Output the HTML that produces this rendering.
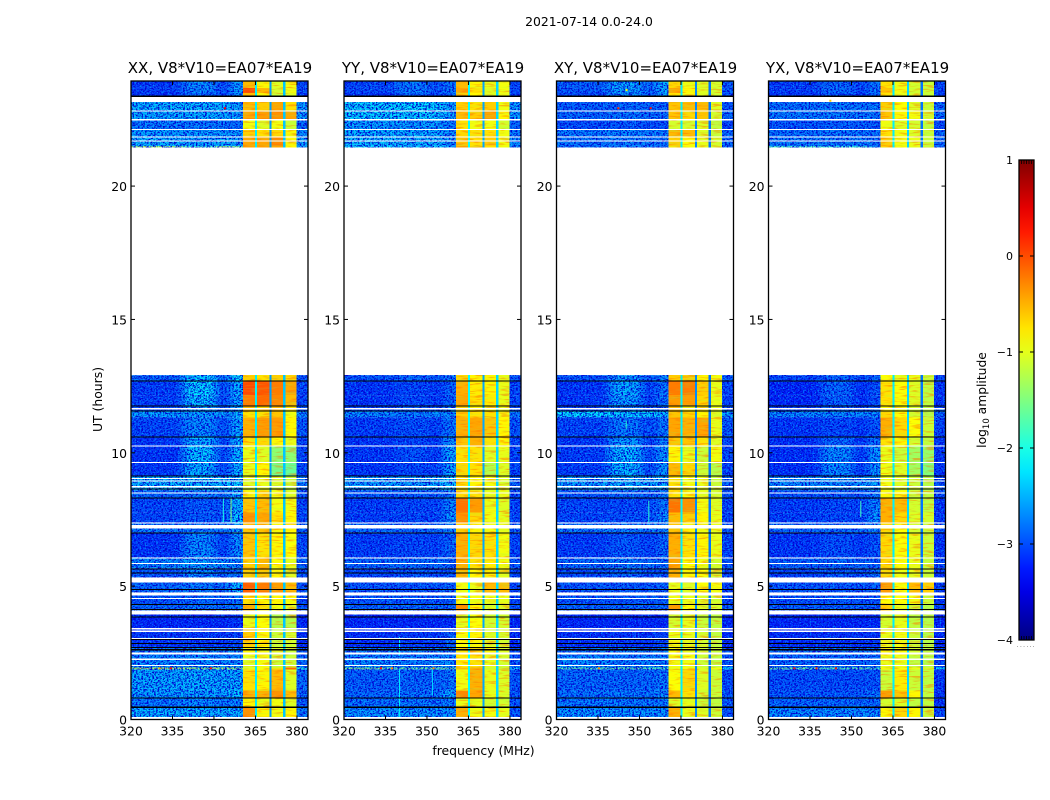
<!DOCTYPE html>
<html>
<head>
<meta charset="utf-8">
<title>2021-07-14 0.0-24.0</title>
<style>
html,body{margin:0;padding:0;background:#fff;width:1050px;height:800px;overflow:hidden}
svg{display:block}
text{font-family:"DejaVu Sans","Liberation Sans",sans-serif;fill:#000}
</style>
</head>
<body>
<svg id="figure" xmlns="http://www.w3.org/2000/svg" width="1050" height="800" viewBox="0 0 1050 800">
  <defs>
    <filter id="soft-band" x="-20%" y="0" width="140%" height="100%" color-interpolation-filters="sRGB">
      <feGaussianBlur stdDeviation="5 0"/>
    </filter>
    <filter id="speckle-dark" x="0" y="0" width="100%" height="100%" color-interpolation-filters="sRGB">
      <feTurbulence type="fractalNoise" baseFrequency="0.55 0.68" numOctaves="2" seed="4"/>
      <feColorMatrix type="matrix" values="0 0 0 0 0  0 0 0 0 0  0 0 0 0 0.82  6 0 0 0 -2.7"/>
      <feComposite in2="SourceGraphic" operator="in"/>
    </filter>
    <filter id="speckle-light" x="0" y="0" width="100%" height="100%" color-interpolation-filters="sRGB">
      <feTurbulence type="fractalNoise" baseFrequency="0.6 0.75" numOctaves="2" seed="11"/>
      <feColorMatrix type="matrix" values="0 0 0 0 0  0 0 0 0 0.7  0 0 0 0 1  0 5 0 0 -2.6"/>
      <feComposite in2="SourceGraphic" operator="in"/>
    </filter>
    <filter id="streak-warm" x="0" y="0" width="100%" height="100%" color-interpolation-filters="sRGB">
      <feTurbulence type="fractalNoise" baseFrequency="0.08 0.55" numOctaves="2" seed="7"/>
      <feColorMatrix type="matrix" values="0 0 0 0 1  0 0 0 0 0.45  0 0 0 0 0  5 0 0 0 -2.6"/>
      <feComposite in2="SourceGraphic" operator="in"/>
    </filter>
    <filter id="streak-cool" x="0" y="0" width="100%" height="100%" color-interpolation-filters="sRGB">
      <feTurbulence type="fractalNoise" baseFrequency="0.06 0.6" numOctaves="2" seed="19"/>
      <feColorMatrix type="matrix" values="0 0 0 0 0.55  0 0 0 0 1  0 0 0 0 0.35  0 5 0 0 -2.7"/>
      <feComposite in2="SourceGraphic" operator="in"/>
    </filter>
    <linearGradient id="jet-gradient" x1="0" y1="1" x2="0" y2="0"></linearGradient>
  </defs>
  <text x="589" y="26" font-size="12.4" text-anchor="middle">2021-07-14 0.0-24.0</text>
  <text transform="translate(102,399.5) rotate(-90)" font-size="12.4" text-anchor="middle">UT (hours)</text>
  <text x="483.5" y="755" font-size="12.4" text-anchor="middle">frequency (MHz)</text>
  <text transform="translate(986,400) rotate(-90)" font-size="12.3" text-anchor="middle">log<tspan font-size="8.5" dy="3">10</tspan><tspan dy="-3"> amplitude</tspan></text>
  <g id="panels"></g>
  <g id="colorbar"></g>
</svg>
<script>
/* Time axis: row boundaries in hours, top to bottom */
var timeEdges = [23.94,23.68,23.49,23.34,23.15,22.81,22.48,22.14,21.84,21.50,21.45,12.91,12.68,12.16,11.74,11.56,11.33,10.58,10.24,9.64,9.12,8.59,8.29,7.77,7.39,7.02,6.08,5.67,5.33,5.14,4.77,4.32,4.09,3.94,3.38,2.70,2.40,1.95,1.88,1.09,0.79,0.45,0.09,0];

/* Frequency groups in MHz */
var lowBand = [300,339];
var humpBand = [339,351];
var shoulderBand = [351,356];
var nearBand = [356,362];
var tailBand = [362,400];
var blockBands = [[360.5,364.8],[365.6,370],[370.8,375],[375.8,379.8]];
var notchBands = [[364.8,365.6],[370,370.8],[375,375.8]];

/* log10 amplitude per time row: low, hump, near, block1, block2, block3, block4, tail */
var xxRows = [
[-2.85,-2.4,-2.3,-.4,-.7,-.9,-.8,-2.8],
[-2.85,-2.45,-2.2,.15,-.4,-.95,-.8,-2.8],
[-2.9,-2.6,-2.4,-.4,-.7,-1,-.9,-2.9],
null,
[-2.2,-2.15,-2.25,-.4,-.5,-.3,-.6,-2.3],
[-2.25,-2.2,-2.3,-.3,-.25,-.2,-.3,-2.3],
[-2.5,-2.5,-2.6,-.8,-.9,-.8,-1,-2.6],
[-2.3,-2.3,-2.3,-.5,-.6,-.55,-.7,-2.4],
[-2.2,-2.3,-2.3,-.3,-.3,-.15,-.7,-2.3],
[-1.1,-1.7,-1.3,-.3,-.3,-.3,-.7,-2.3],
null,
[-2.6,-2.1,-1.9,-.5,-.6,-.5,-.6,-2.7],
[-2.85,-2,-2.1,.15,.1,-.1,-.3,-2.8],
[-2.85,-2.1,-2.2,-.1,0,-.15,-.4,-2.8],
[-2.8,-2.3,-2.3,-.4,-.5,-.4,-.6,-2.8],
[-2.3,-2.3,-2.2,-.6,-.6,-.45,-.8,-2.4],
[-2.8,-2.4,-2.2,-.35,-.25,-.25,-.7,-2.7],
[-2.9,-2.2,-2.1,-.6,-.55,-.7,-.85,-2.8],
[-2.9,-2.1,-2.1,-.85,-.9,-1.3,-1.3,-2.8],
[-2.9,-2.2,-2.1,-.85,-.7,-1.4,-1.5,-2.8],
[-2.2,-2.1,-2,-.9,-.85,-.9,-1,-2.5],
[-2.6,-2.5,-2.2,-.7,-.5,-.8,-.9,-2.7],
[-2.8,-2.7,-2.1,-.45,-.4,-.8,-.8,-2.8],
[-2.8,-2.7,-2,-.2,-.3,-.6,-.7,-2.8],
[-2.5,-2.5,-2.2,-.45,-.45,-.7,-.7,-2.6],
[-2.9,-2.4,-2.3,-.45,-.6,-.7,-.75,-2.8],
[-2.4,-2.3,-2.4,-.5,-.4,-.75,-.85,-2.6],
[-2.7,-2.4,-2.5,-.5,-.45,-.7,-.9,-2.7],
null,
[-2.6,-2.5,-2.1,.05,-.1,-.25,-.4,-2.7],
[-2.7,-2.6,-2.5,-.6,-.7,-.7,-.75,-2.8],
[-2.6,-2.5,-2.5,-.35,-.6,-.8,-.9,-2.7],
null,
[-3,-3,-2.9,-.85,-.75,-1.1,-1.1,-3],
[-2.9,-2.9,-2.8,-.5,-.7,-1,-.95,-3],
[-2.5,-2.4,-2.4,-.7,-.8,-.9,-1,-2.7],
[-2.4,-2.4,-2.4,-.9,-.8,-1,-1,-2.6],
[-1,-1.1,-1.1,-.9,-.8,-.6,0,-1.8],
[-2.25,-2.2,-2.2,-.6,-.7,-.4,-.9,-2.6],
[-2.3,-2.3,-2.1,-.35,-.35,-.2,-.4,-2.6],
[-2.5,-2.4,-2.4,-.7,-.85,-.8,-.9,-2.7],
[-2.2,-2.2,-2.2,-.2,-.7,-.8,-.7,-2.5],
null
];
var yyRows = [
[-2.8,-2.5,-2.5,-.4,-.7,-.85,-.8,-2.8],
[-2.8,-2.5,-2.5,-.3,-.6,-.9,-.8,-2.8],
[-2.9,-2.6,-2.6,-.5,-.7,-.9,-.85,-2.8],
null,
[-2.05,-2,-2.3,-.5,-.6,-.5,-.8,-2.3],
[-2.05,-2.05,-2.3,-.4,-.5,-.3,-.7,-2.3],
[-2.3,-2.3,-2.5,-.6,-.8,-.8,-.95,-2.6],
[-2.2,-2.2,-2.4,-.55,-.6,-.6,-.8,-2.5],
[-2.15,-2.2,-2.4,-.45,-.6,-.5,-.8,-2.4],
[-2,-2.1,-2.4,-.3,-.5,-.6,-.8,-2.4],
null,
[-2.7,-2.6,-2.5,-.55,-.7,-.7,-.85,-2.7],
[-2.9,-2.8,-2.6,-.35,-.65,-.7,-.85,-2.8],
[-2.9,-2.8,-2.6,-.3,-.6,-.65,-.85,-2.8],
[-2.8,-2.7,-2.5,-.5,-.7,-.7,-.85,-2.8],
[-2.4,-2.5,-2.4,-.5,-.6,-.6,-.8,-2.5],
[-2.85,-2.75,-2.5,-.35,-.3,-.45,-.7,-2.7],
[-2.9,-2.8,-2.3,-.45,-.35,-.6,-.7,-2.8],
[-2.9,-2.75,-2.2,-.6,-.6,-.9,-.85,-2.8],
[-2.9,-2.8,-2.2,-.55,-.6,-1.1,-.9,-2.8],
[-2.3,-2.3,-2.1,-.55,-.7,-.8,-.9,-2.6],
[-2.7,-2.7,-2.5,-.55,-.6,-.85,-.85,-2.8],
[-2.85,-2.8,-2.4,-.05,-.25,-.8,-.9,-2.8],
[-2.85,-2.8,-2.3,-.2,-.55,-.8,-.85,-2.8],
[-2.6,-2.6,-2.4,-.5,-.7,-.8,-.85,-2.6],
[-2.85,-2.8,-2.6,-.35,-.55,-.6,-.8,-2.8],
[-2.6,-2.6,-2.6,-.35,-.6,-.65,-.8,-2.7],
[-2.8,-2.7,-2.7,-.4,-.7,-.65,-.85,-2.8],
null,
[-2.7,-2.7,-2.6,-.8,-.85,-.4,-.4,-2.8],
[-2.7,-2.7,-2.65,-.8,-.8,-.85,-.85,-2.8],
[-2.6,-2.6,-2.6,-.2,-.7,-.9,-.9,-2.7],
null,
[-3,-3,-3,-.85,-.75,-.95,-.95,-3],
[-2.95,-2.9,-2.6,-.75,-.7,-.9,-.95,-3],
[-2.5,-2.5,-2.5,-.6,-.55,-.7,-.9,-2.8],
[-2.4,-2.5,-2.4,-.65,-.6,-.85,-.95,-2.7],
[-1.3,-1.4,-1.4,-.4,-.35,-1,-1,-2],
[-2.65,-2.6,-2.5,-.8,-.35,-.85,-.9,-2.7],
[-2.6,-2.55,-2.2,-.15,-.3,-.85,-.9,-2.7],
[-2.55,-2.5,-2.5,-.85,-.85,-.95,-.95,-2.7],
[-2.35,-2.35,-2.35,-.35,-.8,-.8,-.85,-2.7],
null
];
var xyRows = [
[-2.65,-2.25,-2.2,-.55,-.8,-.9,-.95,-2.7],
[-2.7,-2.3,-2.2,-.3,-.7,-.9,-.95,-2.7],
[-2.8,-2.4,-2.3,-.6,-.8,-.9,-.95,-2.8],
null,
[-2.65,-2.6,-2.6,-.45,-.4,-.4,-.9,-2.7],
[-2.6,-2.55,-2.6,-.45,-.55,-.45,-.95,-2.6],
[-2.75,-2.7,-2.75,-.95,-.95,-.9,-1.05,-2.8],
[-2.5,-2.45,-2.5,-.4,-.4,-.9,-1,-2.6],
[-2.55,-2.5,-2.6,-.5,-.75,-.85,-.95,-2.6],
[-2.55,-2.5,-2.6,-.6,-.8,-.85,-.95,-2.6],
null,
[-2.7,-2.3,-2.4,-.5,-.5,-.7,-.8,-2.7],
[-2.9,-2.2,-2.5,-.1,-.1,-.5,-.85,-2.8],
[-2.9,-2.3,-2.5,-.25,-.25,-.55,-.85,-2.8],
[-2.8,-2.5,-2.6,-.4,-.6,-.6,-.85,-2.8],
[-2,-2.1,-2.2,-.45,-.55,-.7,-.9,-2.3],
[-2.8,-2.5,-2.5,-.3,-.35,-.3,-.85,-2.7],
[-2.9,-2.3,-2.4,-.45,-.45,-.6,-.9,-2.8],
[-2.85,-2.15,-2.3,-.7,-.85,-1,-.8,-2.8],
[-2.85,-2.15,-2.3,-.4,-.55,-1,-1.1,-2.8],
[-2.3,-2.2,-2.2,-.6,-.8,-.85,-1,-2.6],
[-2.7,-2.6,-2.5,-.6,-.75,-.85,-.95,-2.7],
[-2.8,-2.8,-2.5,-.05,-.2,-.8,-.9,-2.8],
[-2.8,-2.75,-2.4,-.4,-.5,-.7,-.85,-2.8],
[-2.5,-2.5,-2.4,-.45,-.7,-.8,-.85,-2.7],
[-2.85,-2.7,-2.6,-.35,-.6,-.7,-.85,-2.8],
[-2.6,-2.5,-2.6,-.3,-.75,-.8,-.95,-2.7],
[-2.75,-2.6,-2.7,-.35,-.7,-.75,-.95,-2.8],
null,
[-2.7,-2.7,-2.6,-.85,-.9,-.75,-.8,-2.8],
[-2.7,-2.7,-2.65,-.8,-.85,-.9,-.95,-2.8],
[-2.6,-2.6,-2.6,-.25,-.75,-.9,-.95,-2.7],
null,
[-3,-3,-3,-.95,-.85,-1,-1.05,-3],
[-2.95,-2.9,-2.8,-.8,-.85,-.95,-1.05,-3],
[-2.55,-2.5,-2.5,-.75,-.8,-.95,-1,-2.8],
[-2.4,-2.5,-2.45,-.8,-.8,-1,-1.05,-2.7],
[-1.5,-1.4,-1.5,-.85,-.8,-.9,-.8,-2],
[-2.6,-2.6,-2.5,-.75,-.55,-.9,-1,-2.8],
[-2.55,-2.5,-2.4,-.4,-.6,-.95,-1,-2.7],
[-2.5,-2.5,-2.5,-.9,-.85,-1,-1.05,-2.7],
[-2.35,-2.35,-2.35,-.35,-.85,-.9,-1,-2.7],
null
];
var yxRows = [
[-2.85,-2.6,-2.5,-.6,-.8,-.95,-1,-2.8],
[-2.85,-2.6,-2.5,-.45,-.8,-.95,-1,-2.8],
[-2.9,-2.7,-2.6,-.6,-.85,-.95,-1,-2.9],
null,
[-2.55,-2.5,-2.5,-.5,-.75,-.9,-1,-2.6],
[-2.5,-2.5,-2.55,-.45,-.7,-.8,-.95,-2.6],
[-2.7,-2.65,-2.7,-.8,-.9,-.95,-1.05,-2.8],
[-2.55,-2.5,-2.55,-.6,-.8,-.9,-1,-2.6],
[-2.5,-2.5,-2.55,-.5,-.8,-.85,-1,-2.6],
[-1.6,-1.7,-2.4,-.5,-.8,-.85,-1,-2.6],
null,
[-2.8,-2.6,-2.6,-.75,-.85,-.85,-1,-2.8],
[-3,-2.6,-2.7,-.6,-.75,-.9,-1.05,-2.9],
[-3,-2.65,-2.7,-.6,-.75,-.9,-1.05,-2.9],
[-2.85,-2.7,-2.7,-.7,-.8,-.95,-1.05,-2.8],
[-2.4,-2.4,-2.4,-.55,-.75,-.95,-1.1,-2.6],
[-2.9,-2.8,-2.7,-.35,-.55,-.75,-1,-2.8],
[-2.95,-2.6,-2.5,-.6,-.7,-.95,-1.05,-2.9],
[-2.95,-2.4,-2.3,-.85,-1,-1.2,-1.25,-2.9],
[-2.95,-2.4,-2.3,-.8,-.9,-1.2,-1.35,-2.9],
[-2.4,-2.4,-2.2,-.8,-.9,-1,-1.1,-2.7],
[-2.75,-2.7,-2.5,-.7,-.75,-1,-1.05,-2.8],
[-2.85,-2.8,-2.4,-.35,-.4,-.95,-1.05,-2.9],
[-2.85,-2.8,-2.3,-.35,-.55,-.9,-.95,-2.9],
[-2.6,-2.6,-2.4,-.55,-.75,-.95,-1,-2.7],
[-2.9,-2.75,-2.7,-.55,-.75,-.85,-1,-2.9],
[-2.65,-2.6,-2.65,-.55,-.75,-.85,-1,-2.8],
[-2.8,-2.7,-2.5,-.55,-.8,-.85,-1,-2.9],
null,
[-2.7,-2.7,-2.6,-.25,-.75,-.4,-.5,-2.8],
[-2.75,-2.7,-2.7,-.75,-.75,-.8,-1,-2.9],
[-2.65,-2.65,-2.65,-.5,-.85,-1,-1.1,-2.8],
null,
[-3,-3,-3,-.95,-.85,-1.05,-1.1,-3],
[-2.95,-2.95,-2.9,-.85,-.8,-1,-1.1,-3],
[-2.55,-2.55,-2.5,-.7,-.75,-.95,-1.05,-2.8],
[-2.6,-2.6,-2.6,-.85,-.85,-1.05,-1.1,-2.8],
[-1.4,-1.5,-1.6,-.7,-.8,-.8,-.9,-2],
[-2.75,-2.75,-2.7,-1,-.65,-1,-1.05,-2.9],
[-2.7,-2.7,-2.5,-.25,-.45,-.7,-1.05,-2.9],
[-2.6,-2.6,-2.6,-.95,-.9,-1.05,-1.05,-2.9],
[-2.4,-2.4,-2.4,-.7,-.55,-.7,-1,-2.8],
null
];
var panelRows = [xxRows, yyRows, xyRows, yxRows];

/* Narrow notch levels between blocks per panel */
var xxNotches = [-2.2,-2.6,-2.4];
var yyNotches = [-2.1,-2.55,-2.3];
var xyNotches = [-2.2,-2.7,-2.8];
var yxNotches = [-2.2,-2.3,-2.8];
var panelNotches = [xxNotches, yyNotches, xyNotches, yxNotches];

/* Flagged time ranges (hours), shared by all polarisations */
var blankRanges = [[21.45,12.91]];
var whiteLines = [[22.83,22.79],[22.51,22.46],[22.14,22.10],[21.86,21.82],[21.71,21.67],[11.68,11.63],[10.27,10.23],[9.65,9.61],[9.05,9.01],[8.96,8.92],[8.76,8.69],[8.52,8.47],[7.39,7.35],[7.30,7.17],[6.08,6.04],[5.87,5.83],[4.77,4.65],[4.55,4.51],[3.43,3.37],[3.33,3.29],[3.06,3.02],[2.52,2.44],[2.28,2.23],[2.05,2.01]];
var blackLines = [[23.39,23.34],[12.71,12.67],[11.77,11.73],[11.59,11.55],[10.61,10.57],[9.15,9.11],[8.67,8.62],[8.32,8.28],[7.02,6.98],[5.67,5.63],[5.51,5.47],[4.89,4.85],[4.33,4.29],[4.14,4.10],[3.86,3.82],[3.02,2.98],[2.87,2.83],[2.72,2.68],[2.65,2.59],[0.82,0.78],[0.48,0.44]];

/* Narrow-band interference: panel, MHz, start hour, end hour, level */
var rfiPanel = [0,0,1,1,1,2,2,3];
var rfiFreq = [353.2,356,339.9,339.9,351.8,345,353.2,353.2];
var rfiStart = [7.4,7.4,0.1,2.4,0.9,10.9,7.4,7.6];
var rfiEnd = [8.3,8.3,1.9,3.1,1.9,11.2,8.2,8.2];
var rfiLevel = [-2,-1.5,-2.2,-2.2,-2.3,-1.9,-1.9,-1.8];

/* Bright isolated spots: panel, MHz, hour, level */
var spotPanel = [0,0,0,0,1,1,1,2,2,2,2,3,3,3,3];
var spotFreq = [334,348.5,353.6,330,333,337,352,342,353.7,335,345,329,337,344,342];
var spotHour = [1.92,1.92,22.92,1.92,1.92,1.92,1.92,22.92,22.92,1.92,23.6,1.92,1.92,1.92,23.2];
var spotLevel = [.3,.3,.4,-.4,.3,-.3,-.3,.2,.3,-.3,-.9,.3,.2,.3,-.6];

/* Axis definitions */
var freqTicks = [320,335,350,365,380];
var timeTicks = [0,5,10,15,20];
var panelTitles = ["XX, V8*V10=EA07*EA19","YY, V8*V10=EA07*EA19","XY, V8*V10=EA07*EA19","YX, V8*V10=EA07*EA19"];
var colorTicks = [-4,-3,-2,-1,0,1];
var colorTickLabels = ["\u22124","\u22123","\u22122","\u22121","0","1"];
var colorStops = [-4,-3.5,-3,-2.5,-2,-1.5,-1,-.5,0,.5,1];

/* Calibration of estimated levels against the colour scale */
var continuumShift = -0.2;
var blockShift = -0.14;

var NS = "http://www.w3.org/2000/svg";
var panelLeft = [131,344,556.5,768.5];
var panelWidth = 177;
var plotTop = 81, plotBottom = 719.5;
var freqMin = 320, freqMax = 384, timeMax = 23.94;
var colorMin = -4, colorMax = 1;

function xScale(f, p){ return panelLeft[p] + (f - freqMin) / (freqMax - freqMin) * panelWidth; }
function yScale(t){ return plotBottom - t / timeMax * (plotBottom - plotTop); }
function clip01(v){ return Math.max(0, Math.min(1, v)); }
function jet(v){
  var f = clip01((v - colorMin) / (colorMax - colorMin));
  var r = clip01(1.5 - Math.abs(4 * f - 3));
  var g = clip01(1.5 - Math.abs(4 * f - 2));
  var b = clip01(1.5 - Math.abs(4 * f - 1));
  return "rgb(" + Math.round(r * 255) + "," + Math.round(g * 255) + "," + Math.round(b * 255) + ")";
}
function mk(tag, attrs, parent){
  var el = document.createElementNS(NS, tag);
  for (var k in attrs) el.setAttribute(k, attrs[k]);
  parent.appendChild(el);
  return el;
}

var root = document.getElementById("panels");
var defs = document.querySelector("defs");

panelRows.forEach(function(rows, p){
  var L = panelLeft[p], R = L + panelWidth, W = panelWidth, H = plotBottom - plotTop;
  var panel = mk("g", {}, root);
  
  

  var cp = mk("clipPath", {id: "plot-clip-" + p}, defs);
  mk("rect", {x: L, y: plotTop, width: W, height: H}, cp);

  var plot = mk("g", {"clip-path": "url(#plot-clip-" + p + ")"}, panel);
  
  

  /* background continuum (softened across frequency) */
  var soft = mk("g", {filter: "url(#soft-band)"}, plot);
  rows.forEach(function(row, i){
    if (!row) return;
    var y0 = yScale(timeEdges[i]), y1 = yScale(timeEdges[i + 1]);
    var groups = [[lowBand, row[0]], [humpBand, row[1]], [shoulderBand, row[0]], [nearBand, row[2]], [tailBand, row[7]]];
    groups.forEach(function(g){
      var cell = mk("rect", {x: xScale(g[0][0], p), y: y0, width: xScale(g[0][1], p) - xScale(g[0][0], p), height: y1 - y0, fill: jet(g[1] + continuumShift)}, soft);
      
      
    });
  });

  /* sensor-noise texture */
  var darkNoise = mk("rect", {x: L, y: plotTop, width: W, height: H, fill: "#000", filter: "url(#speckle-dark)"}, plot);
  
  
  var lightNoise = mk("rect", {x: L, y: plotTop, width: W, height: H, fill: "#000", filter: "url(#speckle-light)", opacity: 0.65}, plot);
  
  

  /* narrow-band interference */
  rfiFreq.forEach(function(f, k){
    if (rfiPanel[k] !== p) return;
    var line = mk("rect", {x: xScale(f, p), y: yScale(rfiEnd[k]), width: 1, height: yScale(rfiStart[k]) - yScale(rfiEnd[k]), fill: jet(rfiLevel[k])}, plot);
    
    
  });

  /* signal blocks */
  rows.forEach(function(row, i){
    if (!row) return;
    var y0 = yScale(timeEdges[i]), y1 = yScale(timeEdges[i + 1]);
    blockBands.forEach(function(b, j){
      var cell = mk("rect", {x: xScale(b[0], p), y: y0, width: xScale(b[1], p) - xScale(b[0], p), height: y1 - y0, fill: jet(row[3 + j] + blockShift), "shape-rendering": "crispEdges"}, plot);
      
      
    });
  });

  /* streak texture across the blocks */
  var bx0 = xScale(blockBands[0][0], p), bx1 = xScale(blockBands[3][1], p);
  var warm = mk("rect", {x: bx0, y: plotTop, width: bx1 - bx0, height: H, fill: "#000", filter: "url(#streak-warm)", opacity: 0.5}, plot);
  
  
  var cool = mk("rect", {x: bx0, y: plotTop, width: bx1 - bx0, height: H, fill: "#000", filter: "url(#streak-cool)", opacity: 0.2}, plot);
  
  

  /* notches and flagged rows */
  rows.forEach(function(row, i){
    var y0 = yScale(timeEdges[i]), y1 = yScale(timeEdges[i + 1]);
    if (!row) {
      var blank = mk("rect", {x: L, y: y0, width: W, height: y1 - y0, fill: "#fff", "shape-rendering": "crispEdges"}, plot);
      
      
      return;
    }
    notchBands.forEach(function(b, j){
      var cell = mk("rect", {x: xScale(b[0], p), y: y0, width: xScale(b[1], p) - xScale(b[0], p), height: y1 - y0, fill: jet(panelNotches[p][j]), "shape-rendering": "crispEdges"}, plot);
      
      
    });
  });

  /* bright isolated spots */
  spotFreq.forEach(function(f, k){
    if (spotPanel[k] !== p) return;
    var spot = mk("rect", {x: xScale(f, p), y: yScale(spotHour[k]) - 1, width: 2, height: 2, fill: jet(spotLevel[k])}, plot);
    
    
  });

  /* flagged ranges */
  blankRanges.concat(whiteLines).forEach(function(r){
    var gap = mk("rect", {x: L, y: yScale(r[0]), width: W, height: yScale(r[1]) - yScale(r[0]), fill: "#fff", "shape-rendering": "crispEdges"}, plot);
    
    
  });
  blackLines.forEach(function(r){
    var bar = mk("rect", {x: L, y: yScale(r[0]), width: W, height: yScale(r[1]) - yScale(r[0]), fill: "#000", "shape-rendering": "crispEdges"}, plot);
    
    
  });

  /* frame */
  var frame = mk("rect", {x: L, y: plotTop, width: W, height: H, fill: "none", stroke: "#000", "stroke-width": 1.3}, panel);
  
  

  /* x ticks */
  freqTicks.forEach(function(f){
    var x = xScale(f, p);
    var tb = mk("line", {x1: x, x2: x, y1: plotBottom, y2: plotBottom - 4, stroke: "#000", "stroke-width": 1}, panel);
    
    
    var tt = mk("line", {x1: x, x2: x, y1: plotTop, y2: plotTop + 4, stroke: "#000", "stroke-width": 1}, panel);
    
    
    var lb = mk("text", {x: x, y: 735.5, "font-size": 12.4, "text-anchor": "middle"}, panel);
    
    
    lb.textContent = String(f);
  });

  /* y ticks */
  timeTicks.forEach(function(t){
    var y = yScale(t);
    var tl = mk("line", {x1: L, x2: L + 4, y1: y, y2: y, stroke: "#000", "stroke-width": 1}, panel);
    
    
    var tr = mk("line", {x1: R, x2: R - 4, y1: y, y2: y, stroke: "#000", "stroke-width": 1}, panel);
    
    
    var lb = mk("text", {x: L - 4, y: y + 5, "font-size": 12.4, "text-anchor": "end"}, panel);
    
    
    lb.textContent = String(t);
  });

  /* title */
  var ttl = mk("text", {x: L + W / 2 + 0.5, y: 73, "font-size": 15, "text-anchor": "middle"}, panel);
  
  
  ttl.textContent = panelTitles[p];
});

/* colorbar */
var cb = document.getElementById("colorbar");
var cbX = 1019, cbW = 15, cbTop = 160, cbBottom = 640;
function cScale(v){ return cbBottom - (v - colorMin) / (colorMax - colorMin) * (cbBottom - cbTop); }
var grad = document.getElementById("jet-gradient");
var jetFine = [];
for (var s = 0; s < colorStops.length - 1; s++) { jetFine.push(colorStops[s]); jetFine.push((colorStops[s] + colorStops[s + 1]) / 2); }
jetFine.push(colorStops[colorStops.length - 1]);
jetFine.forEach(function(v){
  mk("stop", {offset: ((v - colorMin) / (colorMax - colorMin) * 100) + "%", "stop-color": jet(v)}, grad);
});
var bar = mk("rect", {x: cbX, y: cbTop, width: cbW, height: cbBottom - cbTop, fill: "url(#jet-gradient)", stroke: "#000", "stroke-width": 1.3}, cb);


colorTicks.forEach(function(v, i){
  var y = cScale(v);
  var a = mk("line", {x1: cbX, x2: cbX + 4, y1: y, y2: y, stroke: "#000", "stroke-width": 1}, cb);
  
  
  var b = mk("line", {x1: cbX + cbW - 4, x2: cbX + cbW, y1: y, y2: y, stroke: "#000", "stroke-width": 1}, cb);
  
  
  var lb = mk("text", {x: 1013, y: y + 4, "font-size": 11, "text-anchor": "end"}, cb);
  
  
  lb.textContent = colorTickLabels[i];
});
[1021.5, 1024, 1026.5, 1029, 1031.5].forEach(function(x){
  var t1 = mk("line", {x1: x, x2: x, y1: cbTop, y2: cbTop + 4, stroke: "#000", "stroke-width": 0.8}, cb);
  
  
  var t2 = mk("line", {x1: x, x2: x, y1: cbBottom, y2: cbBottom - 4, stroke: "#000", "stroke-width": 0.8}, cb);
  
  
});
var dots = mk("text", {x: 1026.5, y: 647, "font-size": 5, "text-anchor": "middle", fill: "#666", "letter-spacing": "1.6"}, cb);


dots.textContent = "......";
</script>
</body>
</html>
